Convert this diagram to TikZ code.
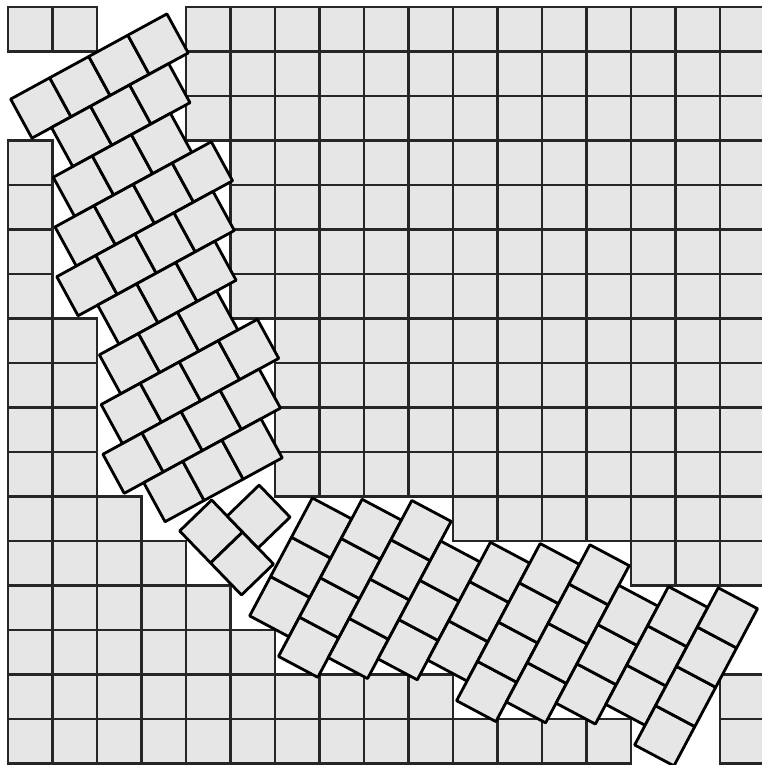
\documentclass[tikz,border=0pt]{standalone}
\definecolor{TileGray}{HTML}{E6E6E6}
\usepackage{tikz}
\tikzset{
  cell/.style={draw=black!85, fill=TileGray, line width=1.8pt},
  tile/.style={draw=black, fill=TileGray, line width=1.8pt, line join=round}
}
\begin{document}
\begin{tikzpicture}[x=1cm, y=1cm]
  \clip (-0.18,0.157) rectangle (16.94,-17.034);
  \foreach \r/\a/\b in {0/0/1, 0/4/16, 1/4/16, 2/4/16, 3/0/0, 3/5/16, 4/0/0, 4/5/16,
                        5/0/0, 5/5/16, 6/0/0, 6/5/16, 7/0/1, 7/6/16, 8/0/1, 8/6/16,
                        9/0/1, 9/6/16, 10/0/1, 10/6/16, 11/0/2, 11/10/16, 12/0/3, 12/14/16,
                        13/0/4, 14/0/5, 15/0/9, 15/16/16, 16/0/13, 16/16/16}
    \foreach \c in {\a,...,\b}
      \draw[cell] (\c,-\r) rectangle ++(1,-1);

  \begin{scope}[shift={(0.538,-2.948)}, rotate=28.6]
    \foreach \r/\a/\n in {0/0/4, 1/0.5/3, 2/0/3, 3/-0.5/4, 4/-1/4,
                          5/-0.5/3, 6/-1/3, 7/-1.5/4, 8/-2/4, 9/-1.5/3}
      \foreach \i in {1,...,\n}
        \draw[tile] (\a+\i-1,-\r) rectangle ++(1,1);
  \end{scope}

  \begin{scope}[shift={(4.552,-12.494)}, rotate=44]
    \foreach \a/\b in {0/0, 0/-1, 1/-0.5}
      \draw[tile] (\a,\b) rectangle ++(1,1);
  \end{scope}

  \begin{scope}[shift={(6.839,-11.034)}, rotate=-28]
    \foreach \q/\p/\n in {0/-3/3, 1/-3.5/4, 2/-3/4, 3/-2.5/3, 4/-2/3,
                          5/-2.5/4, 6/-2/4, 7/-1.5/3, 8/-1/3, 9/-1.5/4}
      \foreach \i in {1,...,\n}
        \draw[tile] (\q,\p+\i-1) rectangle ++(1,1);
  \end{scope}
\end{tikzpicture}
\end{document}
